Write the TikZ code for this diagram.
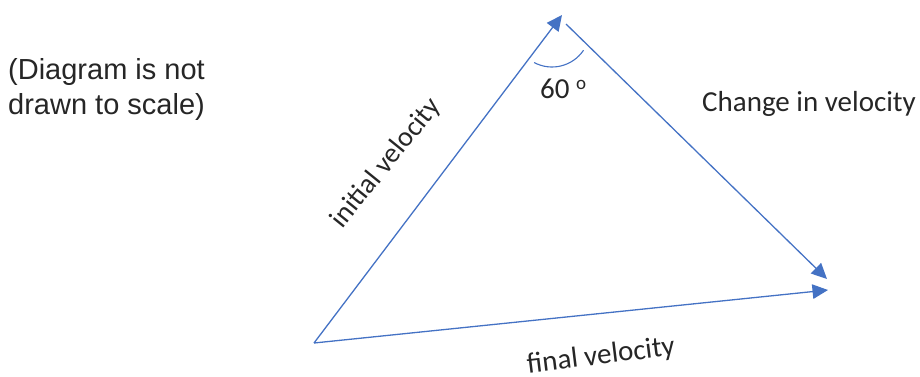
\documentclass[tikz,border=0pt]{standalone}
\usepackage{fontspec}
\setmainfont{Carlito}
\newfontfamily\arialfont{Liberation Sans}
\usetikzlibrary{arrows.meta}
\definecolor{vecblue}{HTML}{4472C4}
\definecolor{txt}{HTML}{262626}
\begin{document}
\begin{tikzpicture}[x=1pt,y=1pt,
  vec/.style={draw=vecblue, line width=1.3pt, -{Triangle[length=15.5pt,width=14.5pt]}},
  anglearc/.style={draw=vecblue, line width=1.1pt},
  lbl/.style={font=\fontsize{29}{34}\selectfont, text=txt, inner sep=0pt},
  note/.style={font=\arialfont\fontsize{29}{34}\selectfont, text=txt, inner sep=0pt, anchor=base west}]
\useasboundingbox (0,0) rectangle (920,376);
% vertices
\coordinate (O) at (314,33);
\coordinate (A) at (562,361);
\coordinate (S) at (566,352);
\coordinate (B) at (827,97);
\coordinate (F) at (828,86);
% vectors
\draw[vec] (O) -- (A);
\draw[vec] (S) -- (B);
\draw[vec] (O) -- (F);
% angle arc
\coordinate (AC) at (552,347);
\draw[anglearc] (AC) ++(242:38) arc[start angle=242, end angle=326, radius=38];
% labels
\node[lbl, anchor=base west] (ang) at (540,278) {60 \raisebox{9pt}{\fontsize{19}{19}\selectfont o}};
\node[lbl, anchor=base west] (civ) at (702,265) {Change in velocity};
\node[lbl, font=\fontsize{28}{34}\selectfont, rotate=51, anchor=base] (iv) at (392,208) {initial velocity};
\node[lbl, rotate=7, anchor=base] (fv) at (602,12) {final velocity};
\node[note] (n1) at (8,297) {(Diagram is not};
\node[note] (n2) at (8,262) {drawn to scale)};
\end{tikzpicture}
\end{document}
